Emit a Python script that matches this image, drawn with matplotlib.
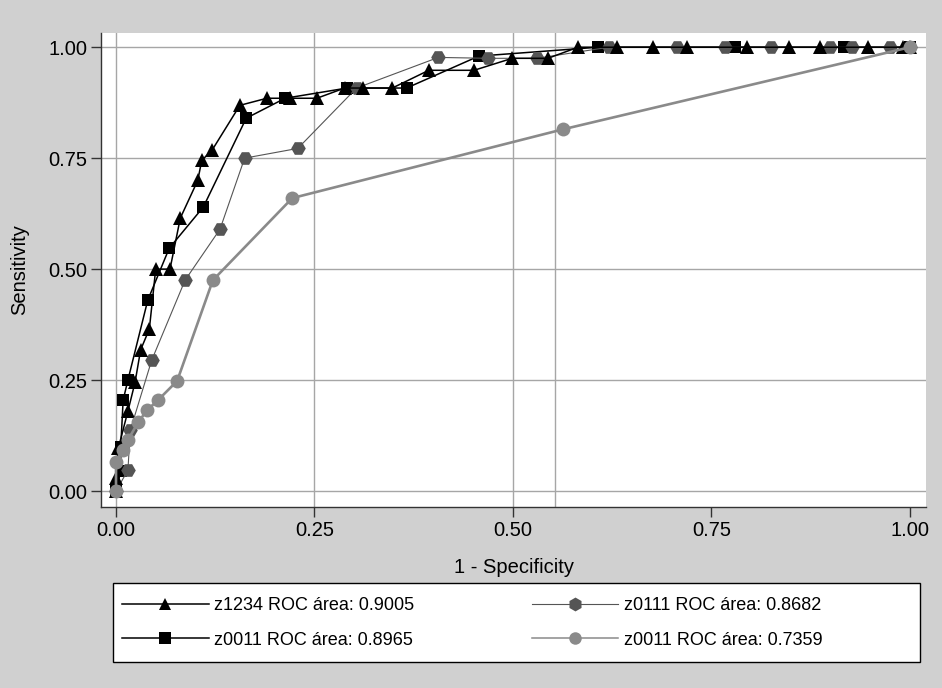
import matplotlib.pyplot as plt
from matplotlib.lines import Line2D
from matplotlib.patches import Rectangle

plt.rcParams["font.family"] = ["Liberation Sans", "DejaVu Sans"]

# ROC points (1 - specificity, sensitivity)
tri_x = [0.0, 0.0, 0.003, 0.015, 0.024, 0.031, 0.042, 0.050, 0.068, 0.081, 0.103, 0.108,
         0.121, 0.156, 0.190, 0.219, 0.253, 0.288, 0.311, 0.348, 0.394, 0.451, 0.499,
         0.544, 0.582, 0.631, 0.676, 0.719, 0.795, 0.848, 0.887, 0.947, 0.991, 1.0]
tri_y = [0.0, 0.03, 0.097, 0.18, 0.245, 0.318, 0.365, 0.50, 0.50, 0.615, 0.70, 0.745,
         0.768, 0.869, 0.885, 0.885, 0.885, 0.908, 0.908, 0.908, 0.948, 0.948, 0.975,
         0.975, 1.0, 1.0, 1.0, 1.0, 1.0, 1.0, 1.0, 1.0, 1.0, 1.0]

sq_x = [0.0, 0.006, 0.006, 0.009, 0.015, 0.040, 0.067, 0.110, 0.164, 0.213, 0.291,
        0.366, 0.457, 0.607, 0.780, 0.917, 1.0]
sq_y = [0.0, 0.045, 0.10, 0.205, 0.25, 0.43, 0.547, 0.64, 0.84, 0.885, 0.908,
        0.908, 0.98, 1.0, 1.0, 1.0, 1.0]

hex_x = [0.0, 0.015, 0.018, 0.045, 0.087, 0.131, 0.162, 0.229, 0.303, 0.406, 0.469,
         0.530, 0.621, 0.707, 0.767, 0.825, 0.899, 0.927, 0.975, 1.0]
hex_y = [0.0, 0.047, 0.137, 0.295, 0.475, 0.59, 0.75, 0.772, 0.908, 0.977, 0.975,
         0.975, 1.0, 1.0, 1.0, 1.0, 1.0, 1.0, 1.0, 1.0]

circ_x = [0.0, 0.0, 0.009, 0.015, 0.028, 0.039, 0.053, 0.077, 0.122, 0.222, 0.563, 1.0]
circ_y = [0.0, 0.065, 0.092, 0.115, 0.155, 0.182, 0.205, 0.248, 0.475, 0.66, 0.815, 1.0]

labels = ["z1234 ROC área: 0.9005", "z0011 ROC área: 0.8965",
          "z0111 ROC área: 0.8682", "z0011 ROC área: 0.7359"]
ticks = [0.0, 0.25, 0.50, 0.75, 1.0]
tick_labels = ["0.00", "0.25", "0.50", "0.75", "1.00"]
vlines = [0.0, 0.25, 0.50, 0.553]

W, H = 942, 688
fig = plt.figure(figsize=(W / 100, H / 100), dpi=100, facecolor="#d0d0d0")
ax = fig.add_axes([101 / W, 1 - 507 / H, (926 - 101) / W, (507 - 32.7) / H])
ax.set_facecolor("white")

grid_c = "#a6a6a6"
for y in ticks:
    ax.axhline(y, color=grid_c, lw=1.0, zorder=1)
for x in vlines:
    ax.axvline(x, color=grid_c, lw=1.0, zorder=1)

styles = [
    dict(x=sq_x, y=sq_y, color="black", marker="s", ms=9, lw=1.1, z=3),
    dict(x=hex_x, y=hex_y, color="#555555", marker="H", ms=10.5, lw=0.8, z=4),
    dict(x=tri_x, y=tri_y, color="black", marker="^", ms=10, lw=1.1, z=5),
    dict(x=circ_x, y=circ_y, color="#8a8a8a", marker="o", ms=10, lw=1.9, z=6),
]
for s in styles:
    ax.plot(s["x"], s["y"], color=s["color"], marker=s["marker"], ms=s["ms"],
            lw=s["lw"], markeredgewidth=0, zorder=s["z"])

ax.set_xlim(-0.0189, 1.0202)
ax.set_ylim(-0.036, 1.0327)
ax.set_xticks(ticks)
ax.set_xticklabels(tick_labels)
ax.set_yticks(ticks)
ax.set_yticklabels(tick_labels)
ax.tick_params(direction="out", length=7, width=1, colors="#333333",
               labelsize=14.5, labelcolor="black", pad=3)
for side in ["top", "right"]:
    ax.spines[side].set_visible(False)
for side in ["left", "bottom"]:
    ax.spines[side].set_color("#333333")
    ax.spines[side].set_linewidth(1.0)
ax.set_xlabel("1 - Specificity", fontsize=14.5, labelpad=13)
ax.set_ylabel("Sensitivity", fontsize=14.5, labelpad=14)

# legend box
fig.patches.append(Rectangle((113 / W, 1 - 662 / H), (920 - 113) / W, (662 - 583) / H,
                             transform=fig.transFigure, facecolor="white",
                             edgecolor="black", lw=1.0, zorder=0))
handles = [
    Line2D([], [], color="black", marker="^", ms=9, lw=1.1, markeredgewidth=0),
    Line2D([], [], color="black", marker="s", ms=8, lw=1.1, markeredgewidth=0),
    Line2D([], [], color="#555555", marker="h", ms=10, lw=0.8, markeredgewidth=0),
    Line2D([], [], color="#8a8a8a", marker="o", ms=9, lw=1.1, markeredgewidth=0),
]
fig.legend(handles, labels, ncol=2, loc="upper left", frameon=False,
           bbox_to_anchor=(122 / W, 1 - 597 / H), borderpad=0, borderaxespad=0,
           fontsize=13, handlelength=4.8, handletextpad=0.3, columnspacing=6.5,
           labelspacing=0.97)

fig.savefig("out.png", dpi=100, facecolor=fig.get_facecolor())
